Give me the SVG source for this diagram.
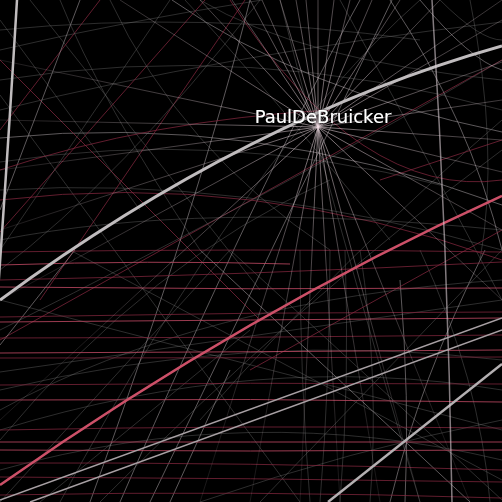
<svg xmlns="http://www.w3.org/2000/svg" width="502" height="502" viewBox="0 0 502 502">
<defs>
<radialGradient id="fade" gradientUnits="userSpaceOnUse" cx="318" cy="127" r="330">
<stop offset="0" stop-color="#fff"/>
<stop offset="0.35" stop-color="#999"/>
<stop offset="1" stop-color="#333"/>
</radialGradient>
<mask id="burstMask" maskUnits="userSpaceOnUse" x="0" y="0" width="502" height="502">
<rect width="502" height="502" fill="url(#fade)"/>
</mask>
<filter id="sh" x="-10%" y="-30%" width="120%" height="160%">
<feDropShadow dx="0" dy="0" stdDeviation="1.2" flood-color="#000" flood-opacity="1"/>
</filter>
</defs>
<style>
path{fill:none}
.g1{stroke:#707070;stroke-opacity:.4;stroke-width:1}
.g2{stroke:#a8a0a4;stroke-opacity:.55;stroke-width:1}
.r1{stroke:#8a2a42;stroke-opacity:.7;stroke-width:1}
.r2{stroke:#c24a64;stroke-opacity:.8;stroke-width:1}
.b{stroke:#f0dce4;stroke-opacity:.55;stroke-width:1}
.lbl{font-family:"DejaVu Sans","Liberation Sans",sans-serif;font-size:18px;fill:#ffffff}
</style>
<rect width="502" height="502" fill="#000"/>
<g id="connectors">
<g id="faint">
<path class="g1" d="M0,50 Q120,22 262,0"/>
<path class="g1" d="M0,110 Q220,55 502,22"/>
<path class="g2" d="M0,138 Q250,112 502,205"/>
<path class="g1" d="M0,162 Q220,128 440,185"/>
<path class="g1" d="M0,190 Q240,175 502,250"/>
<path class="g2" d="M172,0 Q300,90 502,132"/>
<path class="g1" d="M185,0 Q260,80 390,240"/>
<path class="g1" d="M200,0 Q300,60 502,80"/>
<path class="g1" d="M30,0 L260,290"/>
<path class="g1" d="M0,95 L300,502"/>
<path class="g1" d="M0,20 L140,210"/>
<path class="r1" d="M0,232 L205,0"/>
<path class="r1" d="M40,300 L245,0"/>
<path class="r1" d="M0,340 L502,60"/>
<path class="r1" d="M100,0 L0,130"/>
<path class="g2" d="M150,502 L392,0"/>
<path class="g2" d="M120,502 Q260,180 360,0"/>
<path class="g1" d="M60,502 Q250,150 420,0"/>
<path class="g1" d="M0,250 L170,0"/>
<path class="g1" d="M0,440 Q150,260 330,180"/>
<path class="g1" d="M70,250 L502,480"/>
<path class="g1" d="M0,300 L502,430"/>
<path class="g1" d="M0,372 L502,300"/>
<path class="g1" d="M0,390 Q250,330 502,360"/>
<path class="g1" d="M0,430 Q260,350 502,390"/>
<path class="g1" d="M0,470 Q250,400 502,460"/>
<path class="g1" d="M230,250 L502,500"/>
<path class="g2" d="M200,250 L470,502"/>
<path class="g1" d="M330,250 Q330,380 320,502"/>
<path class="g1" d="M345,250 Q350,380 340,502"/>
<path class="g2" d="M400,280 Q410,400 405,502"/>
<path class="g1" d="M420,250 Q480,380 490,502"/>
<path class="g1" d="M300,250 Q300,380 310,502"/>
<path class="g1" d="M502,250 L260,502"/>
<path class="g2" d="M485,250 Q420,380 390,502"/>
<path class="g1" d="M280,0 Q330,200 420,502"/>
<path class="g1" d="M470,0 Q500,150 480,260"/>
<path class="g2" d="M390,0 Q470,120 502,250"/>
<path class="g1" d="M340,0 Q450,200 502,300"/>
<path class="g1" d="M502,120 Q350,250 200,420"/>
<path class="g1" d="M502,60 Q300,180 0,330"/>
<path class="r1" d="M0,60 L260,320"/>
<path class="r1" d="M380,180 L502,140"/>
<path class="r1" d="M250,370 L502,230"/>
<path class="r1" d="M0,200 Q250,170 502,260"/>
<path class="g1" d="M60,0 Q100,100 200,250"/>
<path class="g2" d="M0,210 L80,0"/>
<path class="g1" d="M0,502 L230,250"/>
<path class="g2" d="M0,345 L75,250"/>
<path class="g1" d="M40,502 L250,330"/>
<path class="g2" d="M170,502 L230,370"/>
<path class="g1" d="M0,80 Q250,40 502,110"/>
<path class="g1" d="M0,30 Q200,10 420,40"/>
<path class="g2" d="M420,0 Q470,60 502,70"/>
<path class="g1" d="M440,0 Q480,40 502,40"/>
<path class="g1" d="M0,240 Q200,200 502,230"/>
<path class="g1" d="M0,270 Q120,180 260,0"/>
<path class="g1" d="M110,0 Q180,150 330,250"/>
<path class="r1" d="M230,0 Q360,200 502,180"/>
<path class="g1" d="M502,150 Q300,300 100,502"/>
<path class="g1" d="M0,410 Q200,300 502,280"/>
<path class="g2" d="M250,0 Q200,200 90,502"/>
<path class="g1" d="M360,250 Q380,380 370,502"/>
<path class="g1" d="M502,420 Q350,450 200,502"/>
<path class="r1" d="M0,170 Q150,120 330,110"/>
</g>
<g id="reds">
<path class="r2" d="M0,265 Q150,260 290,264"/>
<path class="r1" d="M0,280 Q250,275 502,262"/>
<path class="r2" d="M0,287 Q250,290 502,288"/>
<path class="r1" d="M0,317 Q250,312 502,312"/>
<path class="r2" d="M0,322 Q250,320 502,318"/>
<path class="r1" d="M0,338 Q250,338 502,335"/>
<path class="r2" d="M0,353 Q250,352 502,350"/>
<path class="r1" d="M0,358 Q250,358 502,357"/>
<path class="r1" d="M0,385 Q250,382 502,384"/>
<path class="r2" d="M0,400 Q250,398 502,402"/>
<path class="r1" d="M0,430 Q250,425 502,428"/>
<path class="r2" d="M0,442 Q250,442 502,442"/>
<path class="r2" d="M0,450 Q250,452 502,450"/>
<path class="r1" d="M0,463 Q250,462 502,470"/>
<path class="r1" d="M0,477 Q250,478 502,482"/>
<path class="r1" d="M0,252 Q250,248 502,252"/>
<path class="r1" d="M0,495 Q250,490 502,498"/>
</g>
<g id="burst" mask="url(#burstMask)">
<path class="b" d="M318,127 L262,0"/>
<path class="b" d="M318,127 L280,0"/>
<path class="b" d="M318,127 L296,0"/>
<path class="b" d="M318,127 L306,0"/>
<path class="b" d="M318,127 L318,0"/>
<path class="b" d="M318,127 L334,0"/>
<path class="b" d="M318,127 L350,0"/>
<path class="b" d="M318,127 L372,0"/>
<path class="b" d="M318,127 L400,0"/>
<path class="b" d="M318,127 L440,0"/>
<path class="b" d="M318,127 L502,20"/>
<path class="b" d="M318,127 L502,62"/>
<path class="b" d="M318,127 L502,100"/>
<path class="b" d="M318,127 L502,140"/>
<path class="b" d="M318,127 L502,172"/>
<path class="b" d="M318,127 L502,230"/>
<path class="b" d="M318,127 L502,300"/>
<path class="b" d="M318,127 L470,502"/>
<path class="b" d="M318,127 L420,502"/>
<path class="b" d="M318,127 L380,502"/>
<path class="b" d="M318,127 L340,502"/>
<path class="b" d="M318,127 L300,502"/>
<path class="b" d="M318,127 L250,502"/>
<path class="b" d="M318,127 L200,502"/>
<path class="b" d="M318,127 L0,420"/>
<path class="b" d="M318,127 L0,300"/>
<path class="b" d="M318,127 L0,230"/>
<path class="b" d="M318,127 L0,120"/>
<path class="b" d="M318,127 L0,60"/>
<path class="b" d="M318,127 L120,0"/>
<path class="b" d="M318,127 L200,0"/>
<path class="b" d="M318,127 L232,0"/>
<path class="b" d="M318,127 L250,0"/>
<path class="b" d="M318,127 L502,0"/>
<path class="b" d="M318,127 L0,170"/>
</g>
<g id="strong">
<path d="M0,300 Q249,117 502,46" style="stroke:#c0bcbe;stroke-width:3"/>
<path d="M0,485 Q250,310 502,196" style="stroke:#cc5068;stroke-width:2.5"/>
<path d="M328,502 L502,364" style="stroke:#b4b0b2;stroke-width:2.5"/>
<path d="M17,0 Q8,150 -4,320" style="stroke:#c0bcbe;stroke-width:2.5"/>
<path d="M432,0 Q448,250 452,502" style="stroke:#d8ccd2;stroke-width:1.5;stroke-opacity:.6"/>
<path d="M0,500 L502,318" style="stroke:#a8a0a4;stroke-width:1.5"/>
<path d="M30,502 L502,330" style="stroke:#a8a0a4;stroke-width:1.5"/>
</g>
</g>
<g id="PaulDeBruicker">
<text class="lbl" x="323" y="123" text-anchor="middle" filter="url(#sh)">PaulDeBruicker</text>
</g>
</svg>
